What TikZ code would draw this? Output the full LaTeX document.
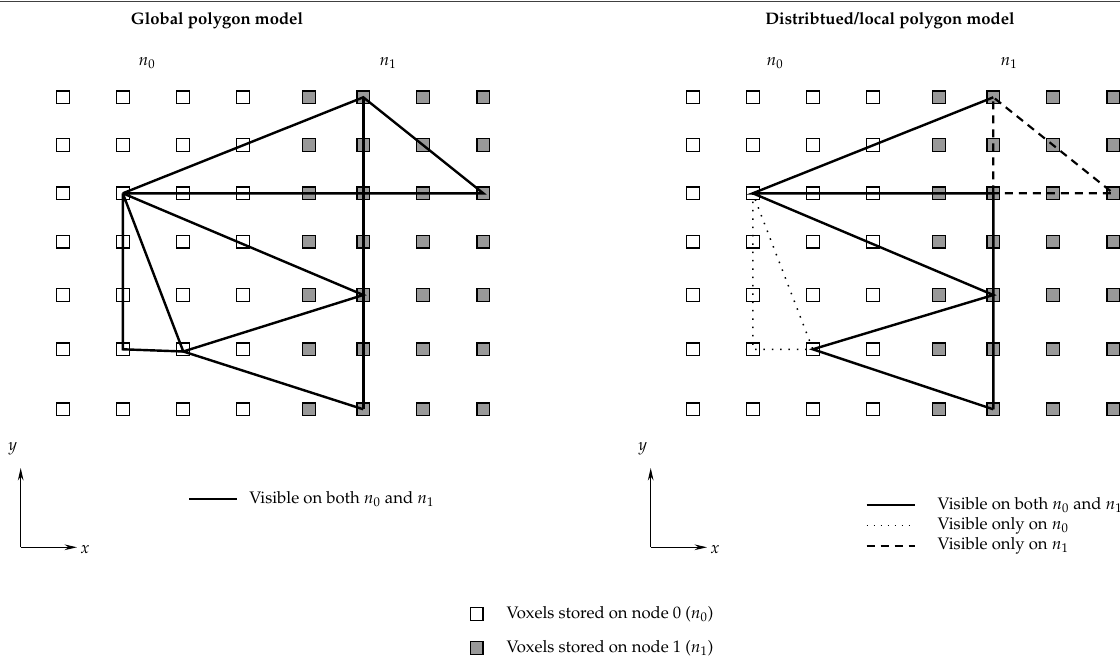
\documentclass[tikz,border=0pt]{standalone}
\usepackage[T1]{fontenc}
\usepackage{mathpazo}
\usetikzlibrary{arrows.meta}

\tikzset{
  vox/.style={draw=black, line width=0.7pt, minimum size=7.6pt, inner sep=0pt, outer sep=0pt},
  voxzero/.style={vox, fill=white},
  voxone/.style={vox, fill=black!40},
  edge/.style={line width=1.45pt, black},
  localedge/.style={line width=1.3pt, black, dash pattern=on 4.8pt off 3.6pt},
  zeroedge/.style={line width=0.9pt, black, dash pattern=on 0.9pt off 4.1pt},
  axisline/.style={line width=0.55pt, black, -{Stealth[length=7.5pt,width=3.4pt]}},
  lbl/.style={inner sep=0pt, outer sep=0pt, font=\fontsize{10}{12}\selectfont},
  title/.style={lbl, font=\fontsize{10}{12}\selectfont\bfseries},
}

\begin{document}
\begin{tikzpicture}[x=0.6pt, y=-0.6pt]
\useasboundingbox (0,0) rectangle (1120,660);

% rule along the top edge
\draw[black!75, line width=0.7pt] (0,1.5) -- (1120,1.5);

% ---------- voxel grids (columns 1-4 on node 0, 5-8 on node 1) ----------
\foreach \pre/\dx in {L/0, R/630}{
  \foreach \x [count=\i] in {62.8,122.8,182.8,242.8}{
    \foreach \y [count=\j] in {97.3,145,193.3,241.7,295,349.3,409.3}{
      \node[voxzero] (\pre-\i-\j) at (\x+\dx,\y) {};
    }
  }
  \foreach \x [count=\i from 5] in {308.8,363.3,422.8,483.3}{
    \foreach \y [count=\j] in {97.3,145,193.3,241.7,295,349.3,409.3}{
      \node[voxone] (\pre-\i-\j) at (\x+\dx,\y) {};
    }
  }
}

% ---------- titles and node labels ----------
\node[title] (ttlL) at (217,21) {Global polygon model};
\node[title] (ttlR) at (890,21) {Distribtued/local polygon model};
\node[lbl] (n0L) at (147,63) {$n_0$};
\node[lbl] (n1L) at (388,63) {$n_1$};
\node[lbl] (n0R) at (775,63) {$n_0$};
\node[lbl] (n1R) at (1009,63) {$n_1$};

% ---------- global polygon model ----------
\coordinate (LH) at (183.3,351.5);
\draw[edge] (L-2-3.center) -- (L-6-1.center) -- (L-8-3.center) -- (L-2-3.center);
\draw[edge] (L-6-1.center) -- (L-6-7.center);
\draw[edge] (L-2-3.center) -- (L-6-5.center) -- (LH) -- (L-6-7.center);
\draw[edge] (L-2-3.center) -- (L-2-6.center) -- (LH) -- (L-2-3.center);

% ---------- distributed/local polygon model ----------
\draw[edge] (R-6-1.center) -- (R-2-3.center) -- (R-6-3.center) -- (R-6-7.center);
\draw[edge] (R-2-3.center) -- (R-6-5.center) -- (R-3-6.center) -- (R-6-7.center);
\draw[localedge] (R-6-3.center) -- (R-6-1.center) -- (R-8-3.center) -- (R-6-3.center);
\draw[zeroedge] (R-2-3.center) -- (R-2-6.center) -- (R-3-6.center) -- (R-2-3.center);

% ---------- coordinate axes ----------
\foreach \pre/\dx in {L/0, R/630}{
  \coordinate (\pre-O) at (20.7+\dx,547.3);
  \coordinate (\pre-Y) at (20.7+\dx,468);
  \coordinate (\pre-X) at (77+\dx,547.3);
  \draw[axisline] (\pre-O) -- (\pre-Y);
  \draw[axisline] (\pre-O) -- (\pre-X);
  \node[lbl] (\pre-ylbl) at (12.7+\dx,449) {$y$};
  \node[lbl] (\pre-xlbl) at (85+\dx,550) {$x$};
}

% ---------- line legends ----------
\coordinate (lgLa) at (189,499.3);
\coordinate (lgLb) at (236.7,499.3);
\draw[edge, line width=1.3pt] (lgLa) -- (lgLb);
\node[lbl, anchor=west] (lgLt) at (249.3,499.3) {Visible on both $n_0$ and $n_1$};

\coordinate (lgR1a) at (866.7,505);
\coordinate (lgR1b) at (915,505);
\coordinate (lgR2a) at (866.7,525.5);
\coordinate (lgR2b) at (915,525.5);
\coordinate (lgR3a) at (866.7,546);
\coordinate (lgR3b) at (915,546);
\draw[edge, line width=1.3pt] (lgR1a) -- (lgR1b);
\draw[line width=0.6pt, dash pattern=on 0.6pt off 3.6pt] (lgR2a) -- (lgR2b);
\draw[localedge] (lgR3a) -- (lgR3b);
\node[lbl, anchor=west] (lgR1t) at (937.7,505) {Visible on both $n_0$ and $n_1$};
\node[lbl, anchor=west] (lgR2t) at (937.7,525.5) {Visible only on $n_0$};
\node[lbl, anchor=west] (lgR3t) at (937.7,546) {Visible only on $n_1$};

% ---------- voxel legend ----------
\node[voxzero] (key0) at (476.7,614) {};
\node[voxone] (key1) at (476.7,648) {};
\node[lbl, anchor=west] (key0t) at (506.7,614) {Voxels stored on node 0 ($n_0$)};
\node[lbl, anchor=west] (key1t) at (506.7,648) {Voxels stored on node 1 ($n_1$)};
\end{tikzpicture}
\end{document}
